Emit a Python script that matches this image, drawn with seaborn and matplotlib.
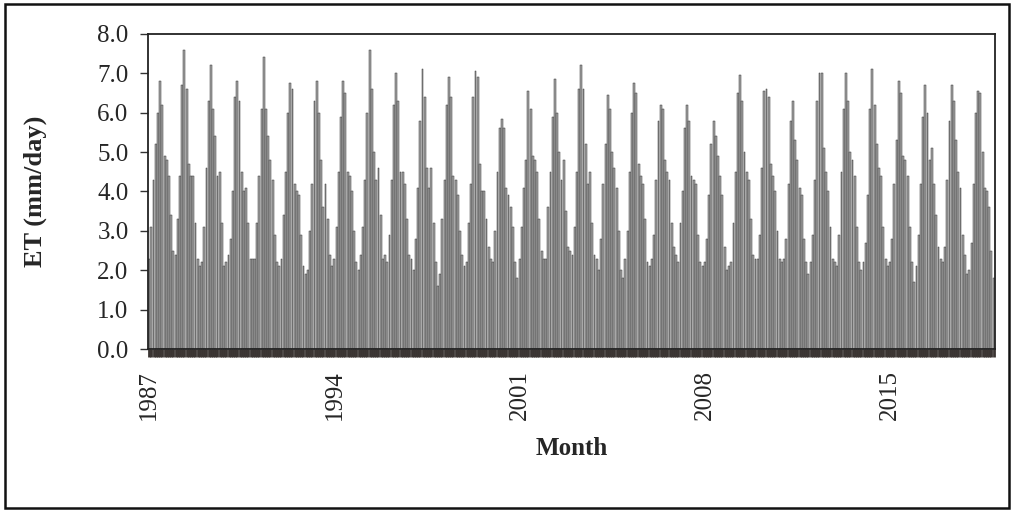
import numpy as np
import pandas as pd
import matplotlib
matplotlib.use('Agg')
import matplotlib.pyplot as plt
from matplotlib.patches import Rectangle
import seaborn as sns

# monthly ET (mm/day), one row per year, Jan..Dec
years = list(range(1987, 2019))
month_names = ['Jan', 'Feb', 'Mar', 'Apr', 'May', 'Jun', 'Jul', 'Aug', 'Sep', 'Oct', 'Nov', 'Dec']
et_values = [
    [2.3, 3.1, 4.3, 5.2, 6.0, 6.8, 6.2, 4.9, 4.8, 4.4, 3.4, 2.5],
    [2.4, 3.3, 4.4, 6.7, 7.6, 6.6, 4.7, 4.4, 4.4, 3.2, 2.3, 2.1],
    [2.2, 3.1, 4.6, 6.3, 7.2, 6.1, 5.4, 4.4, 4.5, 3.2, 2.1, 2.2],
    [2.4, 2.8, 4.0, 6.4, 6.8, 6.3, 4.5, 4.0, 4.1, 3.2, 2.3, 2.3],
    [2.3, 3.2, 4.4, 6.1, 7.4, 6.1, 5.4, 4.8, 4.3, 2.9, 2.2, 2.1],
    [2.3, 3.4, 4.5, 6.0, 6.75, 6.6, 4.2, 4.0, 3.9, 2.9, 2.1, 1.9],
    [2.0, 3.0, 4.2, 6.3, 6.8, 6.0, 4.8, 3.6, 4.2, 3.3, 2.4, 2.1],
    [2.3, 3.1, 4.5, 5.9, 6.8, 6.5, 4.5, 4.4, 4.0, 3.0, 2.2, 2.0],
    [2.4, 3.1, 4.3, 6.0, 7.6, 6.6, 5.0, 4.3, 4.6, 3.4, 2.3, 2.4],
    [2.2, 2.9, 4.3, 6.2, 7.0, 6.3, 4.5, 4.5, 4.2, 3.3, 2.4, 2.3],
    [2.0, 2.8, 4.1, 5.8, 7.1, 6.4, 4.6, 4.1, 4.6, 3.2, 2.2, 1.6],
    [1.9, 3.3, 4.3, 6.2, 6.9, 6.4, 4.4, 4.3, 3.9, 3.0, 2.4, 2.1],
    [2.2, 3.2, 4.2, 6.4, 7.05, 6.9, 4.7, 4.0, 4.0, 3.3, 2.6, 2.3],
    [2.2, 3.0, 4.5, 5.6, 5.85, 5.6, 4.1, 3.9, 3.6, 3.1, 2.2, 1.8],
    [2.3, 3.1, 4.1, 4.8, 6.55, 6.1, 4.9, 4.8, 4.5, 3.3, 2.5, 2.3],
    [2.3, 3.6, 4.5, 5.9, 6.85, 6.0, 5.0, 4.3, 4.8, 3.5, 2.6, 2.5],
    [2.4, 3.1, 4.5, 6.6, 7.2, 6.6, 5.2, 4.2, 4.5, 3.2, 2.4, 2.3],
    [2.0, 2.8, 4.2, 5.2, 6.45, 6.1, 5.0, 4.6, 4.1, 3.0, 2.0, 1.8],
    [2.3, 3.0, 4.5, 6.0, 6.75, 6.5, 4.7, 4.4, 4.2, 3.3, 2.2, 2.1],
    [2.3, 2.9, 4.3, 5.8, 6.2, 6.1, 4.8, 4.5, 4.3, 3.2, 2.6, 2.4],
    [2.2, 3.2, 4.0, 5.6, 6.2, 5.8, 4.4, 4.3, 4.2, 2.9, 2.2, 2.1],
    [2.2, 2.8, 3.9, 5.2, 5.8, 5.4, 4.9, 4.4, 3.9, 2.6, 2.0, 2.1],
    [2.2, 3.2, 4.5, 6.5, 6.95, 6.3, 5.0, 4.5, 4.3, 3.3, 2.4, 2.3],
    [2.3, 2.9, 4.6, 6.55, 6.6, 6.4, 4.7, 4.4, 4.0, 3.0, 2.3, 2.2],
    [2.3, 2.8, 4.2, 5.8, 6.3, 5.3, 4.8, 4.1, 3.9, 2.8, 2.2, 1.9],
    [2.2, 2.9, 4.3, 6.3, 7.0, 7.0, 5.1, 4.5, 4.0, 3.1, 2.3, 2.2],
    [2.1, 2.9, 4.5, 6.1, 7.0, 6.3, 5.0, 4.8, 4.4, 3.1, 2.2, 2.0],
    [2.2, 2.7, 3.9, 6.1, 7.1, 6.2, 5.2, 4.6, 4.4, 3.1, 2.3, 2.1],
    [2.2, 2.8, 4.2, 5.3, 6.8, 6.5, 4.9, 4.8, 4.4, 3.1, 2.2, 1.7],
    [2.1, 2.9, 4.2, 5.9, 6.7, 6.0, 4.8, 5.1, 4.2, 3.4, 2.6, 2.3],
    [2.2, 2.6, 4.3, 5.8, 6.7, 6.3, 5.3, 4.5, 4.1, 2.9, 2.4, 1.9],
    [2.0, 2.7, 4.2, 6.0, 6.55, 6.5, 5.0, 4.1, 4.0, 3.6, 2.5, 1.8],
]
year_ticks = [1987, 1994, 2001, 2008, 2015]

rows = []
for y, vals in zip(years, et_values):
    for m, v in zip(month_names, vals):
        rows.append({'month': f'{m} {y}', 'year': y, 'mon': m, 'ET': v})
df = pd.DataFrame(rows)

sns.set_style('white')
plt.rcParams['font.family'] = ['Liberation Serif', 'DejaVu Serif']

fig = plt.figure(figsize=(10.14, 5.12), dpi=100)
ax = fig.add_axes([0.146, 0.318, 0.835, 0.616])

sns.barplot(x='month', y='ET', data=df, color='#a4a4a4', edgecolor='#353535',
            linewidth=0.35, width=0.85, saturation=1, ax=ax)

ax.set_ylim(0, 8)
yt = np.arange(0, 8.01, 1.0)
ax.set_yticks(yt)
ax.set_yticklabels([f'{v:.1f}' for v in yt], fontsize=18)
ax.set_xlim(-0.5, len(df) - 0.5)

# a tick for every month (gives the dark band under the axis), labels every 7 years
ax.set_xticks(range(len(df)))
labels = [str(y) if (y in year_ticks and m == 'Jan') else '' for y, m in zip(df.year, df.mon)]
ax.set_xticklabels(labels, rotation=90, fontsize=18)
ax.tick_params(axis='x', bottom=True, length=6, width=2.0, color='#3a3432', pad=9, direction='out')
ax.tick_params(axis='y', left=True, length=6, width=1.0, color='#333333', direction='out', pad=8)

for s in ax.spines.values():
    s.set_color('#222222')
    s.set_linewidth(1.3)

ax.set_ylabel('ET (mm/day)', fontsize=19, fontweight='bold', labelpad=36)
ax.set_xlabel('Month', fontsize=18, fontweight='bold', labelpad=12)

fig.add_artist(Rectangle((0.005, 0.008), 0.99, 0.984, transform=fig.transFigure,
                         fill=False, edgecolor='#111111', linewidth=1.8))

plt.savefig('out.png', dpi=100)
plt.close()
